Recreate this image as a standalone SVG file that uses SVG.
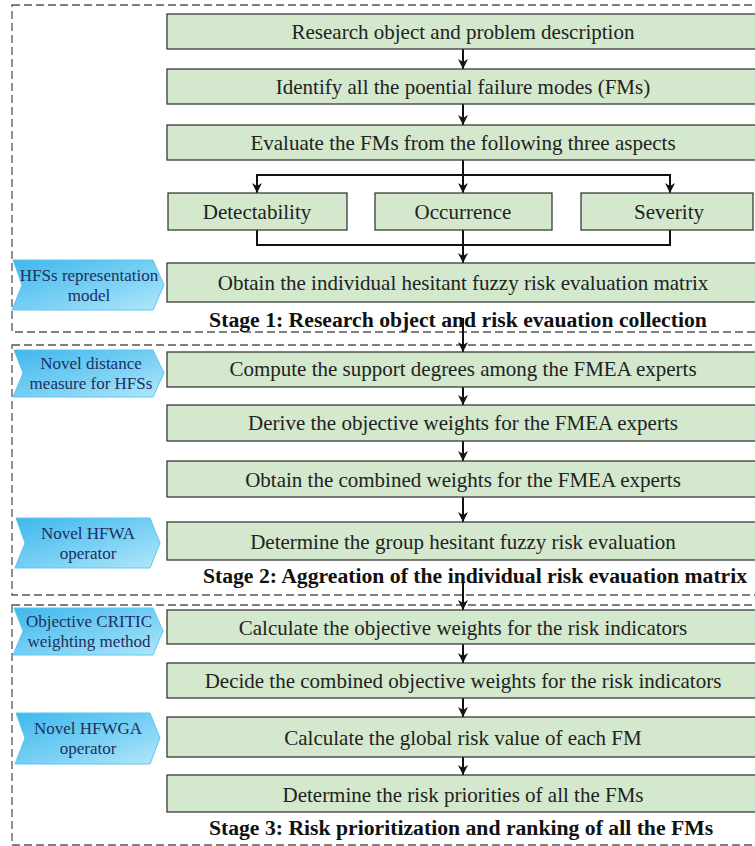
<svg xmlns="http://www.w3.org/2000/svg" width="755" height="846" viewBox="0 0 755 846">
<defs>
<linearGradient id="tagGrad" x1="0" y1="0" x2="1" y2="1">
<stop offset="0" stop-color="#3fb8ec"/>
<stop offset="0.6" stop-color="#7fd3f5"/>
<stop offset="1" stop-color="#b3e7fa"/>
</linearGradient>
<marker id="arr" viewBox="0 0 10 10" refX="10" refY="5" markerWidth="10" markerHeight="10" markerUnits="userSpaceOnUse" orient="auto">
<path d="M0,0 L10,5 L0,10 L3,5 Z" fill="#111"/>
</marker>
<style>
.box{fill:#d3e8cc;stroke:#3a3a3a;stroke-width:1.3}
.txt{font-family:"Liberation Serif","Times New Roman",serif;font-size:21px;fill:#222;text-anchor:middle;dominant-baseline:central}
.stage{font-family:"Liberation Serif","Times New Roman",serif;font-size:21.7px;font-weight:bold;fill:#111;text-anchor:middle}
.frame{fill:none;stroke:#555;stroke-width:1.3;stroke-dasharray:8,4}
.tag{fill:url(#tagGrad);stroke:#5cc6ef;stroke-width:1}
.tagtxt{font-family:"Liberation Serif","Times New Roman",serif;font-size:17px;fill:#1c2f5e;text-anchor:middle}
.con{fill:none;stroke:#111;stroke-width:2}
</style>
</defs>
<g id="frames">
<rect class="frame" x="12" y="5" width="760" height="327"/>
<rect class="frame" x="12" y="345" width="760" height="250"/>
<rect class="frame" x="12" y="605" width="760" height="240"/>
</g>
<g id="connectors">
<line class="con" x1="463" y1="49" x2="463" y2="69" marker-end="url(#arr)"/>
<line class="con" x1="463" y1="104" x2="463" y2="125" marker-end="url(#arr)"/>
<line class="con" x1="463" y1="160" x2="463" y2="193" marker-end="url(#arr)"/>
<polyline class="con" points="257,193 257,175 670,175 670,193" marker-end="url(#arr)"/>
<path class="con" d="M257,175 L257,193" marker-end="url(#arr)"/>
<polyline class="con" points="257,230 257,245 670,245 670,230"/>
<line class="con" x1="463" y1="230" x2="463" y2="263" marker-end="url(#arr)"/>
<line class="con" x1="463" y1="318" x2="463" y2="352" marker-end="url(#arr)"/>
<line class="con" x1="463" y1="387" x2="463" y2="405" marker-end="url(#arr)"/>
<line class="con" x1="463" y1="441" x2="463" y2="461" marker-end="url(#arr)"/>
<line class="con" x1="463" y1="497" x2="463" y2="522" marker-end="url(#arr)"/>
<line class="con" x1="463" y1="578" x2="463" y2="610" marker-end="url(#arr)"/>
<line class="con" x1="463" y1="644" x2="463" y2="663" marker-end="url(#arr)"/>
<line class="con" x1="463" y1="698" x2="463" y2="717" marker-end="url(#arr)"/>
<line class="con" x1="463" y1="757" x2="463" y2="775" marker-end="url(#arr)"/>
</g>
<g id="n1"><rect class="box" x="167" y="14" width="595" height="35"/><text class="txt" x="463" y="32">Research object and problem description</text></g>
<g id="n2"><rect class="box" x="167" y="69" width="595" height="35"/><text class="txt" x="463" y="87">Identify all the poential failure modes (FMs)</text></g>
<g id="n3"><rect class="box" x="167" y="125" width="595" height="35"/><text class="txt" x="463" y="143">Evaluate the FMs from the following three aspects</text></g>
<g id="n4"><rect class="box" x="168" y="193" width="179" height="37"/><text class="txt" x="257" y="212">Detectability</text></g>
<g id="n5"><rect class="box" x="375" y="193" width="177" height="37"/><text class="txt" x="463" y="212">Occurrence</text></g>
<g id="n6"><rect class="box" x="581" y="193" width="172" height="37"/><text class="txt" x="669" y="212">Severity</text></g>
<g id="n7"><rect class="box" x="167" y="263" width="595" height="39"/><text class="txt" x="463" y="283">Obtain the individual hesitant fuzzy risk evaluation matrix</text></g>
<g id="stage1"><text class="stage" x="458" y="327">Stage 1: Research object and risk evauation collection</text></g>
<g id="t1"><path class="tag" d="M13,260 L153,260 L164,285 L153,310 L12,310 L22,285 Z"/><text class="tagtxt" x="89" y="281">HFSs representation</text><text class="tagtxt" x="89" y="301">model</text></g>

<g id="n8"><rect class="box" x="167" y="352" width="595" height="35"/><text class="txt" x="463" y="369">Compute the support degrees among the FMEA experts</text></g>
<g id="n9"><rect class="box" x="167" y="405" width="595" height="36"/><text class="txt" x="463" y="423">Derive the objective weights for the FMEA experts</text></g>
<g id="n10"><rect class="box" x="167" y="461" width="595" height="36"/><text class="txt" x="463" y="480">Obtain the combined weights for the FMEA experts</text></g>
<g id="n11"><rect class="box" x="167" y="522" width="595" height="38"/><text class="txt" x="463" y="542">Determine the group hesitant fuzzy risk evaluation</text></g>
<g id="stage2"><text class="stage" x="475" y="583">Stage 2: Aggreation of the individual risk evauation matrix</text></g>
<g id="t2"><path class="tag" d="M14,350 L153,350 L164,373 L153,397 L13,397 L23,373 Z"/><text class="tagtxt" x="91" y="369">Novel distance</text><text class="tagtxt" x="91" y="389">measure for HFSs</text></g>
<g id="t3"><path class="tag" d="M16,518 L150,518 L160,543 L150,568 L15,568 L25,543 Z"/><text class="tagtxt" x="88" y="539">Novel HFWA</text><text class="tagtxt" x="88" y="559">operator</text></g>

<g id="n12"><rect class="box" x="167" y="610" width="595" height="34"/><text class="txt" x="463" y="628">Calculate the objective weights for the risk indicators</text></g>
<g id="n13"><rect class="box" x="167" y="663" width="595" height="35"/><text class="txt" x="463" y="681">Decide the combined objective weights for the risk indicators</text></g>
<g id="n14"><rect class="box" x="167" y="717" width="595" height="40"/><text class="txt" x="463" y="738">Calculate the global risk value of each FM</text></g>
<g id="n15"><rect class="box" x="167" y="775" width="595" height="37"/><text class="txt" x="463" y="795">Determine the risk priorities of all the FMs</text></g>
<g id="stage3"><text class="stage" x="461" y="835">Stage 3: Risk prioritization and ranking of all the FMs</text></g>
<g id="t4"><path class="tag" d="M14,608 L153,608 L163,631 L153,655 L13,655 L23,631 Z"/><text class="tagtxt" x="89" y="627">Objective CRITIC</text><text class="tagtxt" x="89" y="647">weighting method</text></g>
<g id="t5"><path class="tag" d="M16,713 L150,713 L160,738 L150,764 L15,764 L25,738 Z"/><text class="tagtxt" x="88" y="734">Novel HFWGA</text><text class="tagtxt" x="88" y="754">operator</text></g>
</svg>
